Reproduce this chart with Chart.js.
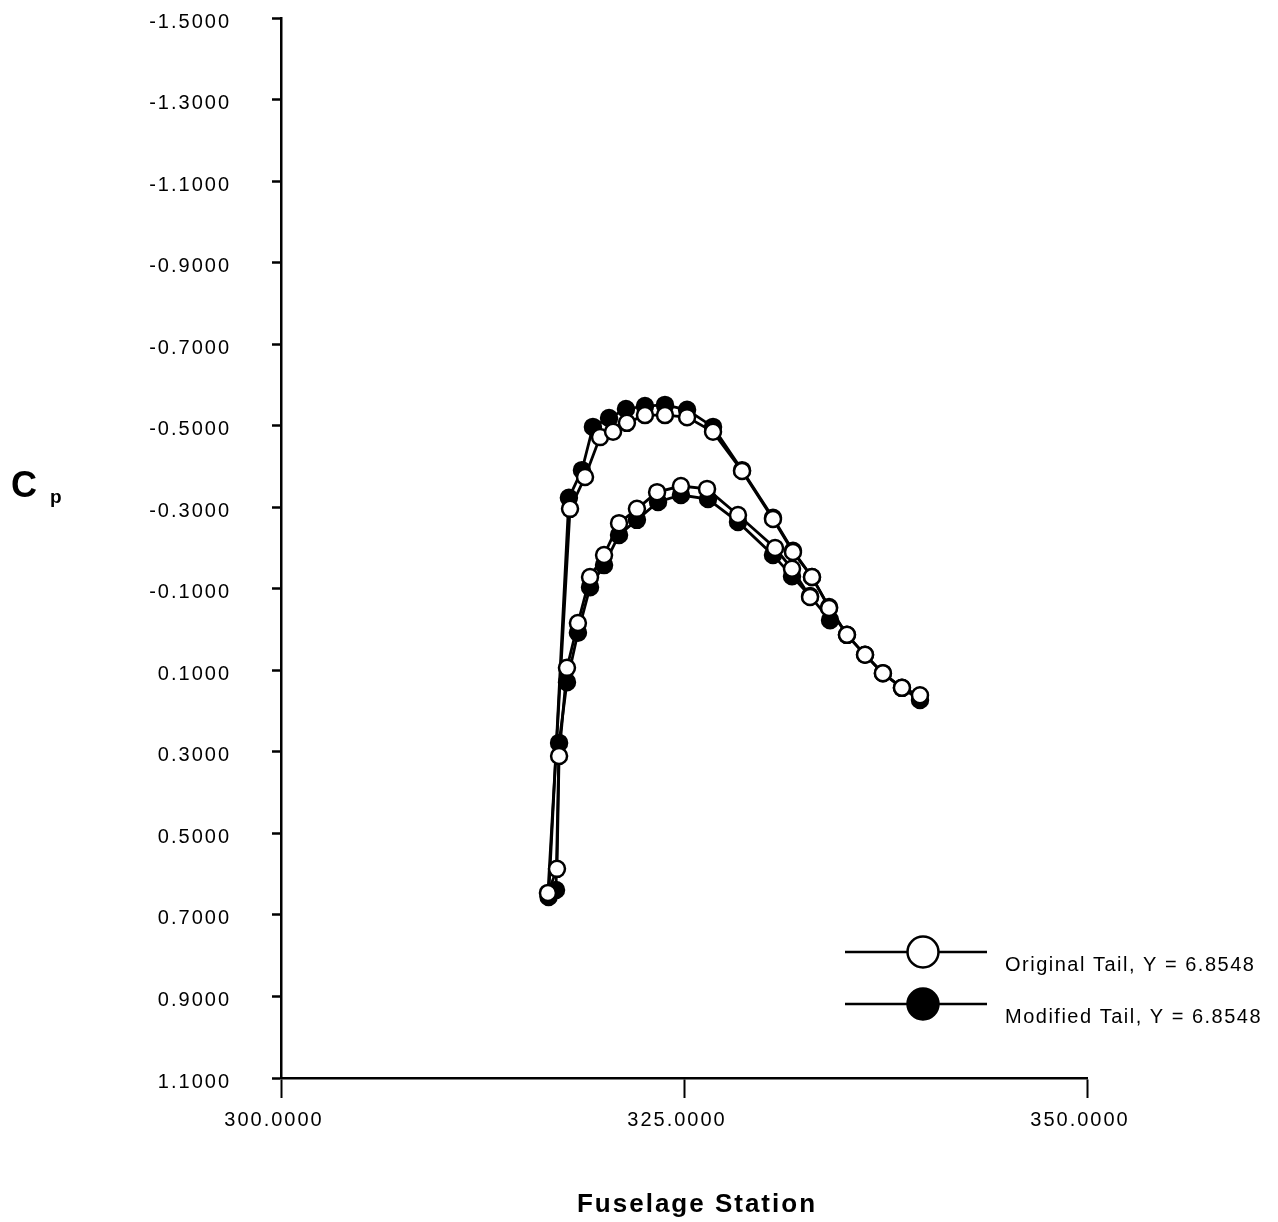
<!DOCTYPE html>
<html>
<head>
<meta charset="utf-8">
<script src="https://cdn.jsdelivr.net/npm/chart.js@4/dist/chart.umd.min.js"></script>
<style>
	html, body { margin: 0; padding: 0; background: #fff; }
	#wrap { width: 1278px; height: 1222px; }
</style>
</head>
<body>
<div id="wrap"><canvas id="myChart" width="1278" height="1222"></canvas></div>
<script>
// Original tail: lower branch (trailing -> leading edge) then upper branch (leading -> trailing)
const origX = [332.82, 331.70, 330.65, 328.35, 326.43, 324.81, 323.33, 322.08, 320.97, 320.04, 319.17, 318.42, 317.74, 317.25, 317.12, 316.56,
	317.93, 318.86, 319.79, 320.60, 321.46, 322.58, 323.82, 325.19, 326.80, 328.60, 330.52, 331.76, 332.94, 334.00, 335.11, 336.23, 337.34, 338.52, 339.64];
const origCp = [-0.080, -0.149, -0.200, -0.281, -0.345, -0.352, -0.337, -0.296, -0.261, -0.183, -0.129, -0.016, 0.094, 0.310, 0.587, 0.646,
	-0.296, -0.374, -0.472, -0.485, -0.507, -0.526, -0.526, -0.521, -0.485, -0.389, -0.271, -0.190, -0.129, -0.053, 0.013, 0.062, 0.107, 0.143, 0.161];

// Modified tail, same ordering
const modX = [334.06, 332.82, 331.70, 330.52, 328.35, 326.49, 324.81, 323.39, 322.08, 320.97, 320.04, 319.17, 318.42, 317.74, 317.25, 317.06, 316.60,
	317.86, 318.67, 319.35, 320.35, 321.40, 322.58, 323.82, 325.19, 326.80, 328.60, 330.52, 331.76, 332.94, 334.00, 335.11, 336.23, 337.34, 338.52, 339.64];
const modCp = [-0.023, -0.082, -0.131, -0.183, -0.264, -0.320, -0.330, -0.313, -0.269, -0.232, -0.158, -0.104, 0.008, 0.129, 0.278, 0.639, 0.656,
	-0.323, -0.391, -0.497, -0.519, -0.541, -0.548, -0.551, -0.539, -0.497, -0.391, -0.274, -0.193, -0.129, -0.055, 0.013, 0.062, 0.107, 0.143, 0.173];

const xTicks = [300, 325, 350];
const yTicks = [-1.5, -1.3, -1.1, -0.9, -0.7, -0.5, -0.3, -0.1, 0.1, 0.3, 0.5, 0.7, 0.9, 1.1];

const seriesNames = ["Original Tail, Y = 6.8548", "Modified Tail, Y = 6.8548"];

function toPoints(xs, ys) {
	const pts = [];
	for (let i = 0; i < xs.length; i++) pts.push({ x: xs[i], y: ys[i] });
	return pts;
}

const FONT = "'Liberation Sans', Arial, Helvetica, sans-serif";

// background, axis titles and the legend box in the lower right
const extras = {
	id: "extras",
	beforeDraw(chart) {
		const ctx = chart.ctx;
		ctx.save();
		ctx.fillStyle = "#fff";
		ctx.fillRect(0, 0, chart.width, chart.height);
		ctx.restore();
		ctx.letterSpacing = "2px";
	},
	afterDraw(chart) {
		const ctx = chart.ctx;
		ctx.save();
		ctx.fillStyle = "#000";
		ctx.textBaseline = "alphabetic";

		// y title: C with subscript p
		ctx.letterSpacing = "0px";
		ctx.font = "bold 36px " + FONT;
		ctx.textAlign = "left";
		ctx.fillText("C", 11, 497);
		ctx.font = "bold 19px " + FONT;
		ctx.fillText("p", 50, 503);

		// x title
		ctx.letterSpacing = "2px";
		ctx.font = "bold 26px " + FONT;
		ctx.textAlign = "center";
		ctx.fillText("Fuselage Station", 697, 1212);

		// legend
		const rows = [952, 1004];
		chart.data.datasets.forEach((ds, i) => {
			const y = rows[i];
			ctx.strokeStyle = "#000";
			ctx.lineWidth = 2.5;
			ctx.beginPath();
			ctx.moveTo(845, y);
			ctx.lineTo(987, y);
			ctx.stroke();
			ctx.beginPath();
			ctx.arc(923, y, 15.5, 0, Math.PI * 2);
			ctx.fillStyle = ds.pointBackgroundColor;
			ctx.fill();
			ctx.lineWidth = 2.5;
			ctx.stroke();
			ctx.fillStyle = "#000";
			ctx.font = "20px " + FONT;
			ctx.letterSpacing = "1.5px";
			ctx.textAlign = "left";
			ctx.fillText(ds.label, 1005, y + 19);
		});
		ctx.restore();
	}
};

new Chart("myChart", {
	type: "scatter",
	data: {
		datasets: [
			{
				label: seriesNames[0],
				data: toPoints(origX, origCp),
				showLine: true,
				borderColor: "#000",
				borderWidth: 2.8,
				pointRadius: 8,
				pointBorderWidth: 2.5,
				pointBorderColor: "#000",
				pointBackgroundColor: "#fff",
				tension: 0
			},
			{
				label: seriesNames[1],
				data: toPoints(modX, modCp),
				showLine: true,
				borderColor: "#000",
				borderWidth: 2.8,
				pointRadius: 8,
				pointBorderWidth: 2.5,
				pointBorderColor: "#000",
				pointBackgroundColor: "#000",
				tension: 0
			}
		]
	},
	options: {
		responsive: false,
		animation: false,
		devicePixelRatio: 1,
		layout: { padding: { left: 0, right: 191, top: 18, bottom: 0 } },
		plugins: {
			legend: { display: false },
			tooltip: { enabled: false }
		},
		scales: {
			x: {
				type: "linear",
				min: 300,
				max: 350,
				afterBuildTicks: (scale) => { scale.ticks = xTicks.map(v => ({ value: v })); },
				afterFit: (scale) => { scale.height = 144; },
				grid: { display: true, drawOnChartArea: false, drawTicks: true, tickLength: 20, tickWidth: 2, color: "#000" },
				border: { display: true, color: "#000", width: 2.5 },
				ticks: {
					color: "#000",
					font: { size: 20, family: FONT },
					padding: 10,
					labelOffset: -7,
					maxRotation: 0,
					callback: (v) => Number(v).toFixed(4)
				}
			},
			y: {
				type: "linear",
				reverse: true,
				min: -1.5,
				max: 1.1,
				afterBuildTicks: (scale) => { scale.ticks = yTicks.map(v => ({ value: v })); },
				afterFit: (scale) => {
					scale.width = 281;
					// the wide label gap should not push the plot down
					scale.paddingTop = 0;
					scale.paddingBottom = 0;
				},
				grid: { display: true, drawOnChartArea: false, drawTicks: true, tickLength: 9, tickWidth: 2.5, color: "#000" },
				border: { display: true, color: "#000", width: 2.5 },
				ticks: {
					color: "#000",
					font: { size: 20, family: FONT },
					padding: 41,
					labelOffset: 4,
					callback: (v) => Number(v).toFixed(4)
				}
			}
		}
	},
	plugins: [extras]
});
</script>
</body>
</html>
